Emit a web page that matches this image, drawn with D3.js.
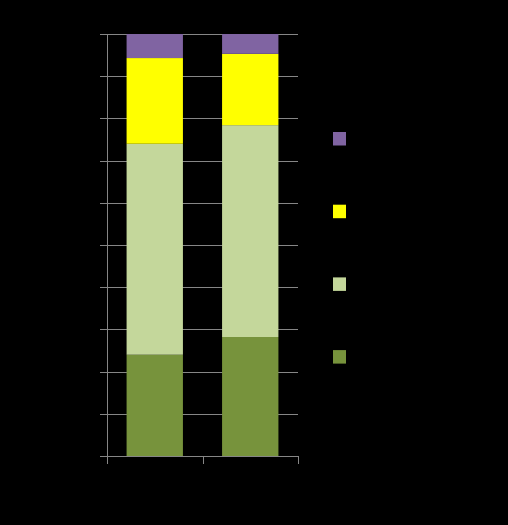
<!DOCTYPE html>
<html><head><meta charset="utf-8">
<script src="https://cdn.jsdelivr.net/npm/d3@7"></script>
<style>html,body{margin:0;padding:0;background:#000;}svg{display:block;}</style>
</head><body>
<script>
const categories = ["A", "B"];
const seriesNames = ["S1", "S2", "S3", "S4"];
const seriesColors = ["#77933C", "#C4D79B", "#FFFF00", "#8064A2"];
const s1 = [24.0, 28.2];
const s2 = [50.0, 50.2];
const s3 = [20.3, 16.9];
const s4 = [5.7, 4.7];
const yTicks = [0,10,20,30,40,50,60,70,80,90,100];

const W = 508, H = 525;
const m = {left:107, right:210, top:34, bottom:69};
const svg = d3.select("body").append("svg").attr("width",W).attr("height",H).style("background","#000");
const pw = W - m.left - m.right, ph = H - m.top - m.bottom;
const g = svg.append("g").attr("transform",`translate(${m.left},${m.top})`);

const rows = categories.map((c,i)=>({cat:c, S1:s1[i], S2:s2[i], S3:s3[i], S4:s4[i]}));
const stack = d3.stack().keys(seriesNames)(rows);

const x = d3.scaleBand().domain(categories).range([0,pw]).paddingInner(0.41).paddingOuter(0.205);
const xb = d3.scaleBand().domain(categories).range([0,pw]);
const y = d3.scaleLinear().domain([0,100]).range([ph,0]);

// gridlines
const gridColor = "#868686";
g.append("g").selectAll("line").data(yTicks).join("line")
  .attr("x1",-7).attr("x2",pw).attr("y1",d=>Math.round(y(d))+0.5).attr("y2",d=>Math.round(y(d))+0.5)
  .attr("stroke",gridColor).attr("stroke-width",1);

// bars
g.append("g").selectAll("g").data(stack).join("g")
  .attr("fill",(d,i)=>seriesColors[i])
  .selectAll("rect").data(d=>d).join("rect")
  .attr("x",d=>x(d.data.cat)).attr("width",x.bandwidth())
  .attr("y",d=>y(d[1])).attr("height",d=>y(d[0])-y(d[1]));

// y axis line
g.append("line").attr("x1",0.5).attr("x2",0.5).attr("y1",0).attr("y2",ph+8).attr("stroke",gridColor);
// x axis ticks at category boundaries
const bounds = categories.map(c=>xb(c)).concat([pw]);
g.append("g").selectAll("line").data(bounds).join("line")
  .attr("x1",d=>Math.round(d)+0.5).attr("x2",d=>Math.round(d)+0.5)
  .attr("y1",ph).attr("y2",ph+8).attr("stroke",gridColor);

// legend (top to bottom: reverse order)
const leg = svg.append("g").attr("transform","translate(333,132)");
const legItems = seriesNames.map((n,i)=>({n, c:seriesColors[i]})).reverse();
leg.selectAll("rect").data(legItems).join("rect")
  .attr("x",0).attr("y",(d,i)=>i*72.7).attr("width",13).attr("height",13.5)
  .attr("fill",d=>d.c);
</script>
</body></html>
